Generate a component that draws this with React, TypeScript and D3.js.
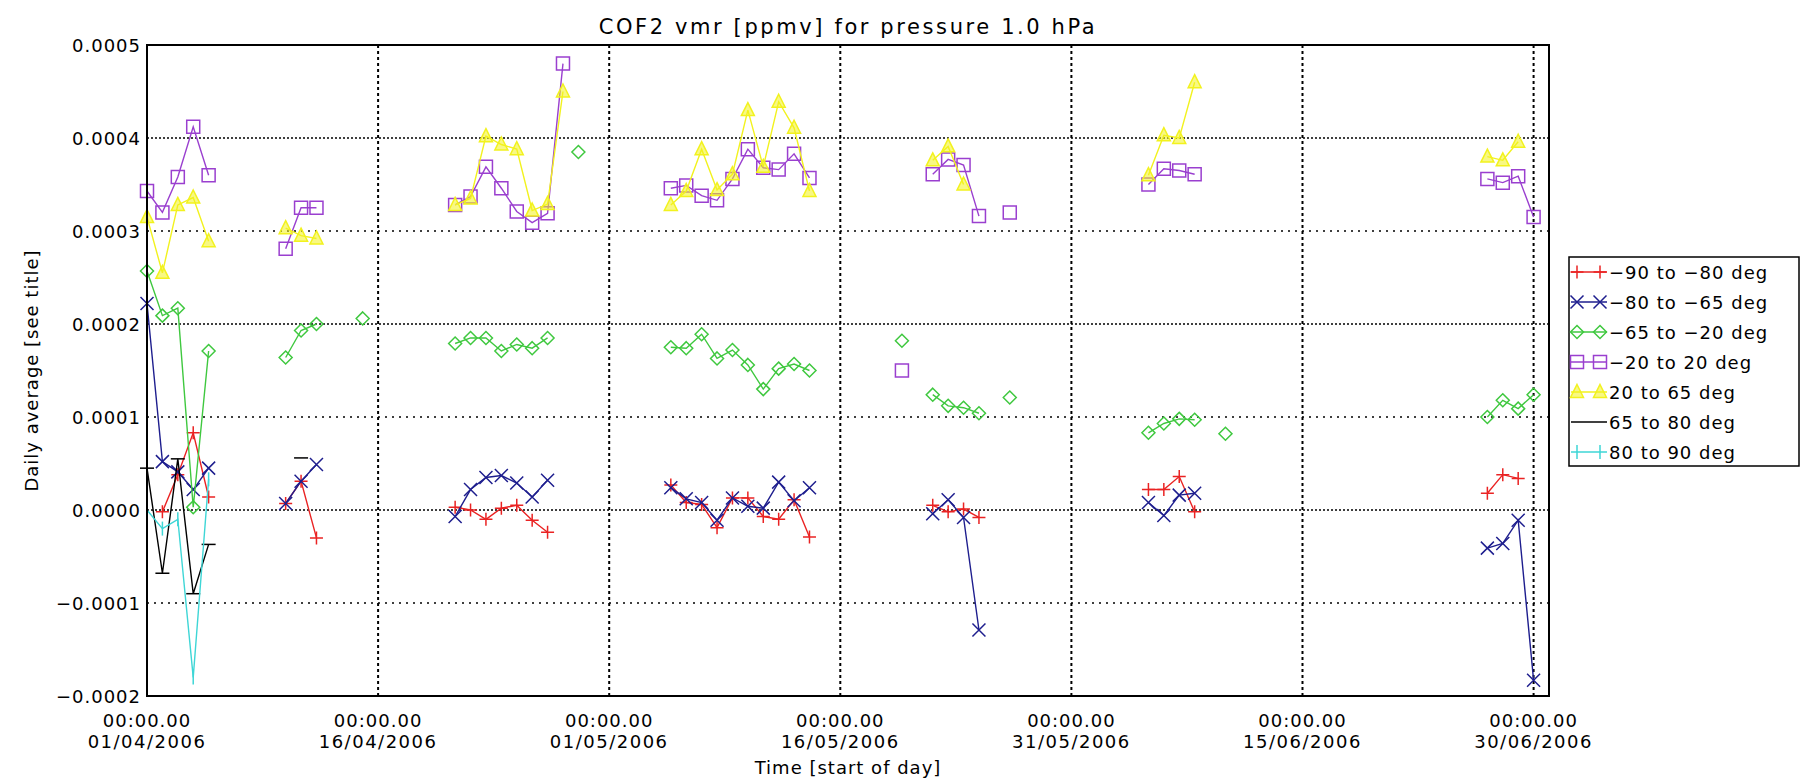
import React from "react";
import * as d3 from "d3";

// ---- Data (values in ppmv) ----
const obsDates = [
  "2006-04-01", "2006-04-02", "2006-04-03", "2006-04-04", "2006-04-05",
  "2006-04-10", "2006-04-11", "2006-04-12", "2006-04-15",
  "2006-04-21", "2006-04-22", "2006-04-23", "2006-04-24", "2006-04-25", "2006-04-26", "2006-04-27", "2006-04-28", "2006-04-29",
  "2006-05-05", "2006-05-06", "2006-05-07", "2006-05-08", "2006-05-09", "2006-05-10", "2006-05-11", "2006-05-12", "2006-05-13", "2006-05-14",
  "2006-05-20", "2006-05-22", "2006-05-23", "2006-05-24", "2006-05-25", "2006-05-27",
  "2006-06-05", "2006-06-06", "2006-06-07", "2006-06-08", "2006-06-10",
  "2006-06-27", "2006-06-28", "2006-06-29", "2006-06-30",
];

const lat90to80S = [
  null, -0.000002, 0.000038, 0.000083, 0.000014,
  0.000007, 0.000031, -0.00003, null,
  0.000003, 0.0, -0.00001, 0.000002, 0.000005, -0.000011, -0.000024, null, null,
  0.000027, 0.000008, 0.000006, -0.000019, 0.000013, 0.000013, -0.000007, -0.00001, 0.000011, -0.000029,
  null, 0.000005, -0.000002, 0.000001, -0.000008, null,
  0.000022, 0.000022, 0.000036, -0.000002, null,
  0.000018, 0.000038, 0.000034, null,
];

const lat80to65S = [
  0.000222, 0.000052, 0.000041, 0.000022, 0.000045,
  0.000007, 0.000031, 0.000049, null,
  -0.000007, 0.000022, 0.000035, 0.000037, 0.000029, 0.000014, 0.000032, null, null,
  0.000024, 0.000012, 0.000008, -0.000011, 0.000013, 0.000004, 0.000002, 0.00003, 0.00001, 0.000024,
  null, -0.000004, 0.000011, -0.000008, -0.000129, null,
  0.000008, -0.000006, 0.000016, 0.000018, null,
  -0.000041, -0.000036, -0.000011, -0.000183,
];

const lat65to20S = [
  0.000257, 0.000209, 0.000217, 0.000003, 0.000171,
  0.000164, 0.000193, 0.0002, 0.000206,
  0.000179, 0.000185, 0.000185, 0.000171, 0.000178, 0.000174, 0.000185, null, 0.000385,
  0.000175, 0.000174, 0.000189, 0.000163, 0.000172, 0.000156, 0.00013, 0.000152, 0.000157, 0.00015,
  0.000182, 0.000124, 0.000112, 0.00011, 0.000104, 0.000121,
  0.000083, 0.000093, 0.000098, 0.000097, 0.000082,
  0.0001, 0.000118, 0.000109, 0.000124,
];

const lat20Sto20N = [
  0.000343, 0.00032, 0.000358, 0.000412, 0.00036,
  0.000281, 0.000325, 0.000325, null,
  0.000328, 0.000337, 0.000369, 0.000346, 0.000321, 0.000309, 0.000319, 0.00048, null,
  0.000346, 0.000349, 0.000338, 0.000333, 0.000356, 0.000388, 0.000368, 0.000366, 0.000383, 0.000357,
  0.00015, 0.000361, 0.000377, 0.000371, 0.000316, 0.00032,
  0.00035, 0.000367, 0.000365, 0.000361, null,
  0.000356, 0.000352, 0.000359, 0.000315,
];

const lat20to65N = [
  0.000315, 0.000255, 0.000328, 0.000336, 0.000289,
  0.000303, 0.000295, 0.000292, null,
  0.000328, 0.000335, 0.000402, 0.000393, 0.000388, 0.000322, 0.000329, 0.00045, null,
  0.000328, 0.000343, 0.000388, 0.000344, 0.000361, 0.00043, 0.000369, 0.000439, 0.000411, 0.000343,
  null, 0.000376, 0.000391, 0.00035, null, null,
  0.00036, 0.000403, 0.0004, 0.00046, null,
  0.00038, 0.000376, 0.000396, null,
];

const lat65to80N = [0.000045, -0.000068, 0.000055, -0.00009, -0.000037, null, 0.000056];
const lat80to90N = [0.0, -0.00002, -0.00001, -0.00018, 0.000033];

const yTickValues = [-0.0002, -0.0001, 0.0, 0.0001, 0.0002, 0.0003, 0.0004, 0.0005];
const xTickDates = ["2006-04-01", "2006-04-16", "2006-05-01", "2006-05-16", "2006-05-31", "2006-06-15", "2006-06-30"];
const xDomain = ["2006-04-01", "2006-07-01"];

type Marker = "plus" | "x" | "diamond" | "square" | "triangle" | "hbar" | "vbar";

const series: { label: string; values: (number | null)[]; color: string; marker: Marker }[] = [
  { label: "\u221290 to \u221280 deg", values: lat90to80S, color: "#ea2323", marker: "plus" },
  { label: "\u221280 to \u221265 deg", values: lat80to65S, color: "#1e1e8e", marker: "x" },
  { label: "\u221265 to \u221220 deg", values: lat65to20S, color: "#3fc83f", marker: "diamond" },
  { label: "\u221220 to 20 deg", values: lat20Sto20N, color: "#9a3fcf", marker: "square" },
  { label: "20 to 65 deg", values: lat20to65N, color: "#f2f21e", marker: "triangle" },
  { label: "65 to 80 deg", values: lat65to80N, color: "#000000", marker: "hbar" },
  { label: "80 to 90 deg", values: lat80to90N, color: "#3ed6d6", marker: "vbar" },
];

const FONT = "'DejaVu Sans', sans-serif";

function markerPath(m: Marker): string {
  const s = 6.5;
  switch (m) {
    case "plus":
      return `M${-s},0H${s}M0,${-s}V${s}`;
    case "x":
      return `M${-s},${-s}L${s},${s}M${-s},${s}L${s},${-s}`;
    case "diamond":
      return `M0,${-s}L${s},0L0,${s}L${-s},0Z`;
    case "square":
      return `M${-s},${-s}H${s}V${s}H${-s}Z`;
    case "triangle":
      return `M0,${-s - 1}L${s},${s - 1}L${-s},${s - 1}Z`;
    case "hbar":
      return `M${-7},0H7`;
    case "vbar":
      return `M0,-7V7`;
  }
}

export default function App() {
  const M = { left: 147, right: 1549, top: 45, bottom: 696 };
  const parse = d3.utcParse("%Y-%m-%d");
  const x = d3
    .scaleUtc()
    .domain(xDomain.map((s) => parse(s) as Date))
    .range([M.left, M.right]);
  const y = d3.scaleLinear().domain([-0.0002, 0.0005]).range([M.bottom, M.top]);
  const fmtY = d3.format(".4f");
  const fmtTime = d3.utcFormat("%H:%M.%S");
  const fmtDate = d3.utcFormat("%d/%m/%Y");
  const dates = obsDates.map((s) => parse(s) as Date);
  const DAY = 86400000;

  type P = { d: Date; v: number | null };
  const buildPts = (vals: (number | null)[]): P[] => {
    const pts: P[] = [];
    vals.forEach((v, i) => {
      if (i > 0 && dates[i].getTime() - dates[i - 1].getTime() > DAY * 1.5) {
        pts.push({ d: dates[i], v: null });
      }
      pts.push({ d: dates[i], v });
    });
    return pts;
  };
  const line = d3
    .line<P>()
    .defined((p) => p.v !== null)
    .x((p) => x(p.d))
    .y((p) => y(p.v as number));

  const plotCx = (M.left + M.right) / 2;
  const plotCy = (M.top + M.bottom) / 2;

  // legend layout
  const legX0 = 1569;
  const legX1 = 1799;
  const rowY = (i: number) => 272 + i * 30;

  return (
    <svg
      width={1801}
      height={782}
      style={{ position: "absolute", left: 0, top: 0, background: "#fff" }}
      fontFamily={FONT}
    >
      <rect x={0} y={0} width={1801} height={782} fill="#fff" />
      {/* title */}
      <text x={plotCx} y={34} textAnchor="middle" fontSize={21} letterSpacing={2.6} fill="#000">
        COF2 vmr [ppmv] for pressure 1.0 hPa
      </text>

      {/* horizontal grid */}
      {yTickValues
        .filter((v) => v > -0.0002 && v < 0.0005)
        .map((v, i) => (
          <line
            key={"hg" + i}
            x1={M.left}
            x2={M.right}
            y1={y(v)}
            y2={y(v)}
            stroke="#000"
            strokeWidth={1.6}
            strokeDasharray={Math.round(v * 1e4) % 2 === 0 ? "2,2" : "2,5"}
          />
        ))}
      {/* vertical grid */}
      {xTickDates.slice(1).map((s, i) => {
        const xx = x(parse(s) as Date);
        return (
          <line
            key={"vg" + i}
            x1={xx}
            x2={xx}
            y1={M.top}
            y2={M.bottom}
            stroke="#000"
            strokeWidth={2}
            strokeDasharray="3,3"
          />
        );
      })}

      {/* series */}
      {series.map((s, si) => {
        const pts = buildPts(s.values);
        return (
          <g key={"s" + si}>
            <path d={line(pts) || ""} fill="none" stroke={s.color} strokeWidth={1.4} />
            {pts
              .filter((p) => p.v !== null)
              .map((p, i) => (
                <path
                  key={i}
                  transform={`translate(${x(p.d)},${y(p.v as number)})`}
                  d={markerPath(s.marker)}
                  fill={s.marker === "triangle" ? s.color : "none"}
                  fillOpacity={s.marker === "triangle" ? 0.55 : 1}
                  stroke={s.color}
                  strokeWidth={1.5}
                />
              ))}
          </g>
        );
      })}

      {/* frame */}
      <rect
        x={M.left}
        y={M.top}
        width={M.right - M.left}
        height={M.bottom - M.top}
        fill="none"
        stroke="#000"
        strokeWidth={2}
      />

      {/* y tick labels */}
      {yTickValues.map((v, i) => (
        <text
          key={"yl" + i}
          x={M.left - 6}
          y={y(v) + 7}
          textAnchor="end"
          fontSize={18}
          letterSpacing={1}
          fill="#000"
        >
          {fmtY(v)}
        </text>
      ))}

      {/* x tick labels */}
      {xTickDates.map((s, i) => {
        const d = parse(s) as Date;
        const xx = x(d);
        return (
          <g key={"xl" + i}>
            <text x={xx} y={727} textAnchor="middle" fontSize={18} letterSpacing={1} fill="#000">
              {fmtTime(d)}
            </text>
            <text x={xx} y={748} textAnchor="middle" fontSize={18} letterSpacing={1.5} fill="#000">
              {fmtDate(d)}
            </text>
          </g>
        );
      })}

      {/* axis titles */}
      <text x={plotCx} y={774} textAnchor="middle" fontSize={18} letterSpacing={1} fill="#000">
        Time [start of day]
      </text>
      <text
        transform={`translate(38,${plotCy}) rotate(-90)`}
        textAnchor="middle"
        fontSize={18}
        letterSpacing={1}
        fill="#000"
      >
        Daily average [see title]
      </text>

      {/* legend */}
      <rect
        x={legX0}
        y={rowY(0) - 15}
        width={legX1 - legX0}
        height={rowY(series.length - 1) + 14 - (rowY(0) - 15)}
        fill="#fff"
        stroke="#000"
        strokeWidth={1.5}
      />
      {series.map((s, i) => {
        const yy = rowY(i);
        const showMarkers = s.marker !== "hbar";
        return (
          <g key={"lg" + i}>
            <line x1={legX0 + 2} x2={1607} y1={yy} y2={yy} stroke={s.color} strokeWidth={1.4} />
            {showMarkers &&
              [1577, 1600].map((mx) => (
                <path
                  key={mx}
                  transform={`translate(${mx},${yy})`}
                  d={markerPath(s.marker)}
                  fill={s.marker === "triangle" ? s.color : "none"}
                  fillOpacity={s.marker === "triangle" ? 0.55 : 1}
                  stroke={s.color}
                  strokeWidth={1.5}
                />
              ))}
            <text x={1609} y={yy + 7} fontSize={18} letterSpacing={1} fill="#000">
              {s.label}
            </text>
          </g>
        );
      })}
    </svg>
  );
}
